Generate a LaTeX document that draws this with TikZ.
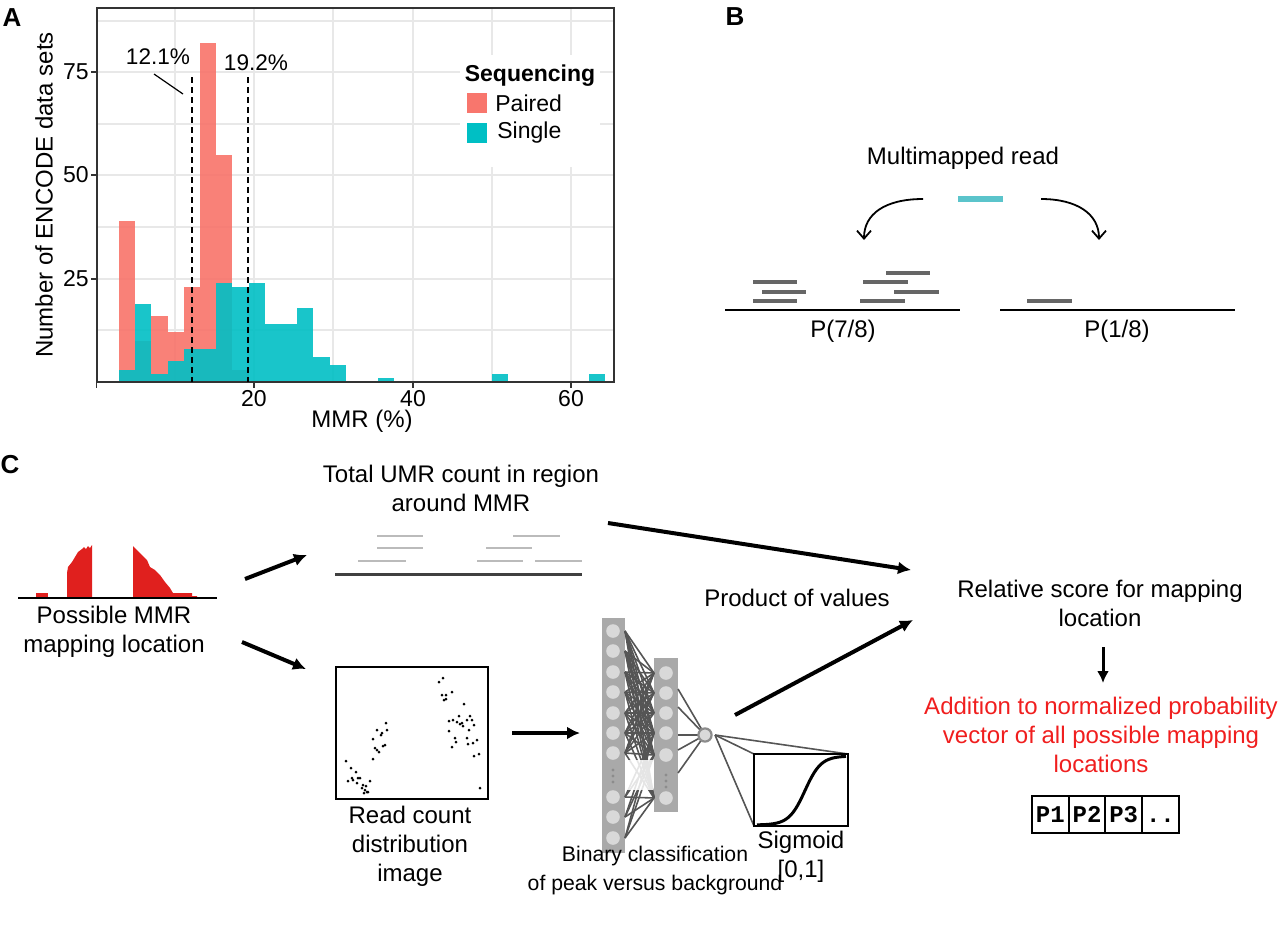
\documentclass[tikz,border=0pt]{standalone}
\usepackage{fontspec}
\setmainfont{Liberation Sans}
\newfontfamily\courierbold{Liberation Mono}
\usetikzlibrary{arrows.meta}
\definecolor{paired}{HTML}{F8766D}
\definecolor{single}{HTML}{00BFC4}
\definecolor{readcyan}{HTML}{5BC4CB}
\definecolor{readgray}{HTML}{666666}
\definecolor{umrgray}{HTML}{BBBBBB}
\definecolor{netgray}{HTML}{A9A9A9}
\definecolor{cellgray}{HTML}{D9D9D9}
\definecolor{wiregray}{HTML}{555555}
\definecolor{covred}{HTML}{E0201E}
\definecolor{vecred}{HTML}{F01E1E}
\tikzset{
  lbl/.style={font=\fontsize{12}{14.5}\selectfont, align=center, inner sep=0pt},
  ticklbl/.style={font=\fontsize{11.5}{13}\selectfont, inner sep=0pt},
  axislbl/.style={font=\fontsize{12}{14}\selectfont, inner sep=0pt},
  pctlbl/.style={font=\fontsize{11.3}{13}\selectfont, inner sep=0pt},
  panel/.style={font=\fontsize{13}{15}\selectfont\bfseries, inner sep=0pt},
  grid line/.style={draw=black!9, line width=0.6pt},
  readbar/.style={readgray, line width=2.2pt},
  umrbar/.style={umrgray, line width=1.1pt},
  bigarrow/.style={line width=2pt, -{Latex[length=6.5pt,width=6.5pt]}},
  curvearrow/.style={line width=0.9pt, -{Straight Barb[length=4pt,width=7pt]}},
  netline/.style={wiregray, line width=0.8pt},
  pcell/.style={draw, line width=0.9pt, minimum width=18.35pt, minimum height=18.5pt,
    text height=7.5pt, text depth=0pt,
    inner sep=0pt, outer sep=0pt, font=\courierbold\bfseries\fontsize{12}{12}\selectfont}
}
\begin{document}
\begin{tikzpicture}[x=0.5pt,y=-0.5pt]
\useasboundingbox (0,0) rectangle (1280,928);

% ---------------- A : histogram
\foreach \gx in {175,254,333,413,492,571} \draw[grid line] (\gx,8) -- (\gx,382);
\foreach \gy in {21,72,124,175,227,279,330} \draw[grid line] (97,\gy) -- (614,\gy);
\fill[white] (460,55) rectangle (600,167);
\foreach \i/\h in {0/39,1/10,2/16,3/12,4/23,5/82,6/55,7/3}
  \fill[paired, opacity=0.92] ({119+16.2*\i},382) rectangle ({135.2+16.2*\i},{382-4.13*\h});
\foreach \i/\h in {0/3,1/19,2/2,3/5,4/8,5/8,6/24,7/23,8/24,9/14,10/14,11/18,12/6,13/4,16/1,23/2,29/2}
  \fill[single, opacity=0.9] ({119+16.2*\i},382) rectangle ({135.2+16.2*\i},{382-4.13*\h});
\draw[black!80, line width=1pt] (96.5,8) rectangle (614,382);
\draw[black!80, line width=1.4pt] (96.5,382) -- (614,382);
\foreach \v/\yy in {25/279,50/175,75/72} {
  \draw[black!80, line width=0.8pt] (91,\yy) -- (96.5,\yy);
  \node[ticklbl, anchor=east] (ytick\v) at (89,\yy) {\v};
}
\foreach \v/\xx in {0/96.5,20/254,40/413,60/571} \draw[black!80, line width=0.8pt] (\xx,382) -- (\xx,388);
\foreach \v/\xx in {20/254,40/413,60/571} \node[ticklbl] (xtick\v) at (\xx,399) {\v};
\node[axislbl] (xtitle) at (362,421) {MMR (\%)};
\node[axislbl, rotate=90] (ytitle) at (44,195) {Number of ENCODE data sets};

% cut-offs
\draw[line width=1pt, dash pattern=on 3pt off 2pt] (191.6,77) -- (191.6,382);
\draw[line width=1pt, dash pattern=on 3pt off 2pt] (247.7,77) -- (247.7,382);
\node[pctlbl] (pctlow) at (158,57) {12.1\%};
\node[pctlbl] (pcthigh) at (256,63) {19.2\%};
\coordinate (leadA) at (154,74);
\coordinate (leadB) at (183,94);
\draw[line width=0.6pt] (leadA) -- (leadB);

% legend
\node[ticklbl, font=\fontsize{11.5}{13}\selectfont\bfseries] (legtitle) at (530,76) {Sequencing};
\fill[paired] (467,93) rectangle (487,113);
\fill[single] (467,123) rectangle (487,143);
\node[ticklbl, anchor=west] (legpaired) at (495,103) {Paired};
\node[ticklbl, anchor=west] (legsingle) at (497,133) {Single};

% ---------------- B : multimapped read
\node[lbl] (mmread) at (963,158) {Multimapped read};
\draw[readcyan, line width=2.6pt] (958,199) -- (1003,199);
\coordinate (leftstart) at (923,199);
\coordinate (leftend) at (864,240);
\coordinate (rightstart) at (1041,199);
\coordinate (rightend) at (1099,240);
\draw[curvearrow] (leftstart) .. controls (885,199) and (864,214) .. (leftend);
\draw[curvearrow] (rightstart) .. controls (1077,199) and (1099,214) .. (rightend);
\foreach \xa/\xb/\yy in {753/797/282,762/806/292,753/797/301,886/930/273,863/908/282,894/939/292,860/905/301,1027/1072/301}
  \draw[readbar] (\xa,\yy) -- (\xb,\yy);
\draw[line width=1pt] (725,310) -- (960,310);
\draw[line width=1pt] (1000,310) -- (1235,310);
\node[lbl] (pseven) at (843,331) {P(7/8)};
\node[lbl] (pone) at (1117,331) {P(1/8)};

% ---------------- C : scoring
\node[panel] (panelA) at (12,18) {A};
\node[panel] (panelB) at (735,17) {B};
\node[panel] (panelC) at (10,465) {C};

% coverage track
\fill[covred] (36,598) rectangle (48,593);
\fill[covred] plot coordinates {(67,598) (67,573) (68,567) (72,562) (75,557) (78,552) (82,549) (84,547) (86,549) (88,546) (90,548) (92,545) (92,598)};
\fill[covred] plot coordinates {(133,598) (133,546) (137,550) (142,555) (147,560) (150,567) (155,570) (160,575) (165,582) (170,588) (173,593) (192,593) (192,596) (197,596) (197,598)};
\draw[line width=1pt] (18,598) -- (217,598);
\node[lbl] (possible) at (114,632) {Possible MMR\\mapping location};

% unique reads around the MMR
\node[lbl] (umrtext) at (461,488) {Total UMR count in region\\around MMR};
\foreach \xa/\xb/\yy in {377/423/536,513/560/536,377/423/548,486/532/548,358/406/561,477/523/561,535/582/561}
  \draw[umrbar] (\xa,\yy) -- (\xb,\yy);
\draw[black!75, line width=1.5pt] (335,574) -- (582,574);

% read count image
\draw[line width=0.9pt] (336,667) rectangle (488,799);
\foreach \dx/\dy in {346/761,351/768,356/772,352/778,353/780,348/781,358/778,360/778,357/783,363/785,362/788,365/790,367/792,364/793,368/792,370/781,366/786,
  373/759,373/739,375/748,377/750,377/730,379/752,381/735,382/733,383/746,385/745,386/723,387/730,
  439/682,443/678,442/695,444/700,446/695,446/699,452/692,464/704,449/721,453/720,457/722,459/716,460/724,462/723,463/726,467/720,470/716,472/720,474/725,
  469/730,467/738,468/744,473/743,477/740,449/731,455/738,456/742,452/747,474/756,479/754,480/788}
  \fill (\dx,\dy) circle (0.75pt);
\node[lbl] (readimg) at (410,846) {Read count\\distribution\\image};

% network
\fill[netgray] (602,618) rectangle (625,853);
\fill[netgray] (654,658) rectangle (678,812);
\foreach \n/\yy in {1/631,2/651,3/672,4/692,5/713,6/733,7/753,8/797,9/817,10/838} {
  \coordinate (l\n) at (613,\yy);
  \coordinate (lr\n) at (625,\yy);
}
\foreach \n/\yy in {1/673,2/693,3/713,4/733,5/755,6/798} {
  \coordinate (m\n) at (666,\yy);
  \coordinate (ml\n) at (654,\yy);
}
\foreach \i in {1,...,7} \foreach \j in {1,...,5} \draw[netline] (lr\i) -- (ml\j);
\foreach \i in {1,...,10} \draw[netline] (lr\i) -- (ml6);
\foreach \i in {8,9,10} \foreach \j in {4,5} \draw[netline] (lr\i) -- (ml\j);
\fill[white, opacity=0.85] (626,760) rectangle (653,790);
\foreach \n in {1,...,10} \fill[cellgray] (l\n) circle (3.4pt);
\foreach \n in {1,...,6} \fill[cellgray] (m\n) circle (3.4pt);
\foreach \yy in {770,776,782} \fill[black!45] (613,\yy) circle (0.8pt);
\foreach \yy in {775,781,787} \fill[black!45] (666,\yy) circle (0.8pt);
\coordinate (outc) at (705,735);
\foreach \n/\yy in {1/689,2/707,3/735,4/750,5/773} {
  \coordinate (mr\n) at (678,\yy);
  \draw[netline] (mr\n) -- (outc);
}
\draw[fill=cellgray, draw=black!45, line width=1.1pt] (outc) circle (3.3pt);

% sigmoid zoom
\coordinate (outr) at (715,735);
\coordinate (sigTL) at (754,754);
\coordinate (sigTR) at (848,754);
\coordinate (sigBL) at (754,826);
\draw[netline] (outr) -- (sigTL);
\draw[netline] (outr) -- (sigTR);
\draw[netline] (outr) -- (sigBL);
\draw[fill=white, line width=0.8pt] (sigBL) rectangle (sigTR);
\draw[line width=1.5pt, domain=757:846, samples=60, smooth] plot (\x,{825-69/(1+exp(-(\x-805)/8))});
\node[lbl] (sigtext) at (801,857) {Sigmoid\\{[0,1]}};
\node[lbl, font=\fontsize{10.6}{14.5}\selectfont] (binary) at (655,871) {Binary classification\\of peak versus background};

% scoring
\node[lbl] (product) at (797,598) {Product of values};
\node[lbl] (relscore) at (1100,603) {Relative score for mapping\\location};
\node[lbl, text=vecred] (addvec) at (1101,735) {Addition to normalized probability\\vector of all possible mapping\\locations};
\foreach \k/\t in {0/P1,1/P2,2/P3,3/..} \node[pcell] (p\k) at ({1050.3+36.7*\k},814.5) {\t};

% arrows
\coordinate (covup) at (245,579);
\coordinate (umrin) at (307,555);
\coordinate (covdown) at (242,642);
\coordinate (imgin) at (306,669);
\coordinate (umrout) at (608,523);
\coordinate (scorein) at (911,570);
\coordinate (imgout) at (512,733);
\coordinate (netin) at (580,733);
\coordinate (netout) at (735,715);
\coordinate (scorein2) at (913,620);
\coordinate (scoredown) at (1103,647);
\coordinate (vecin) at (1103,683);
\draw[bigarrow] (covup) -- (umrin);
\draw[bigarrow] (covdown) -- (imgin);
\draw[bigarrow] (umrout) -- (scorein);
\draw[bigarrow] (imgout) -- (netin);
\draw[bigarrow] (netout) -- (scorein2);
\draw[line width=1.5pt, -{Latex[length=6pt,width=6pt]}] (scoredown) -- (vecin);
\end{tikzpicture}
\end{document}
